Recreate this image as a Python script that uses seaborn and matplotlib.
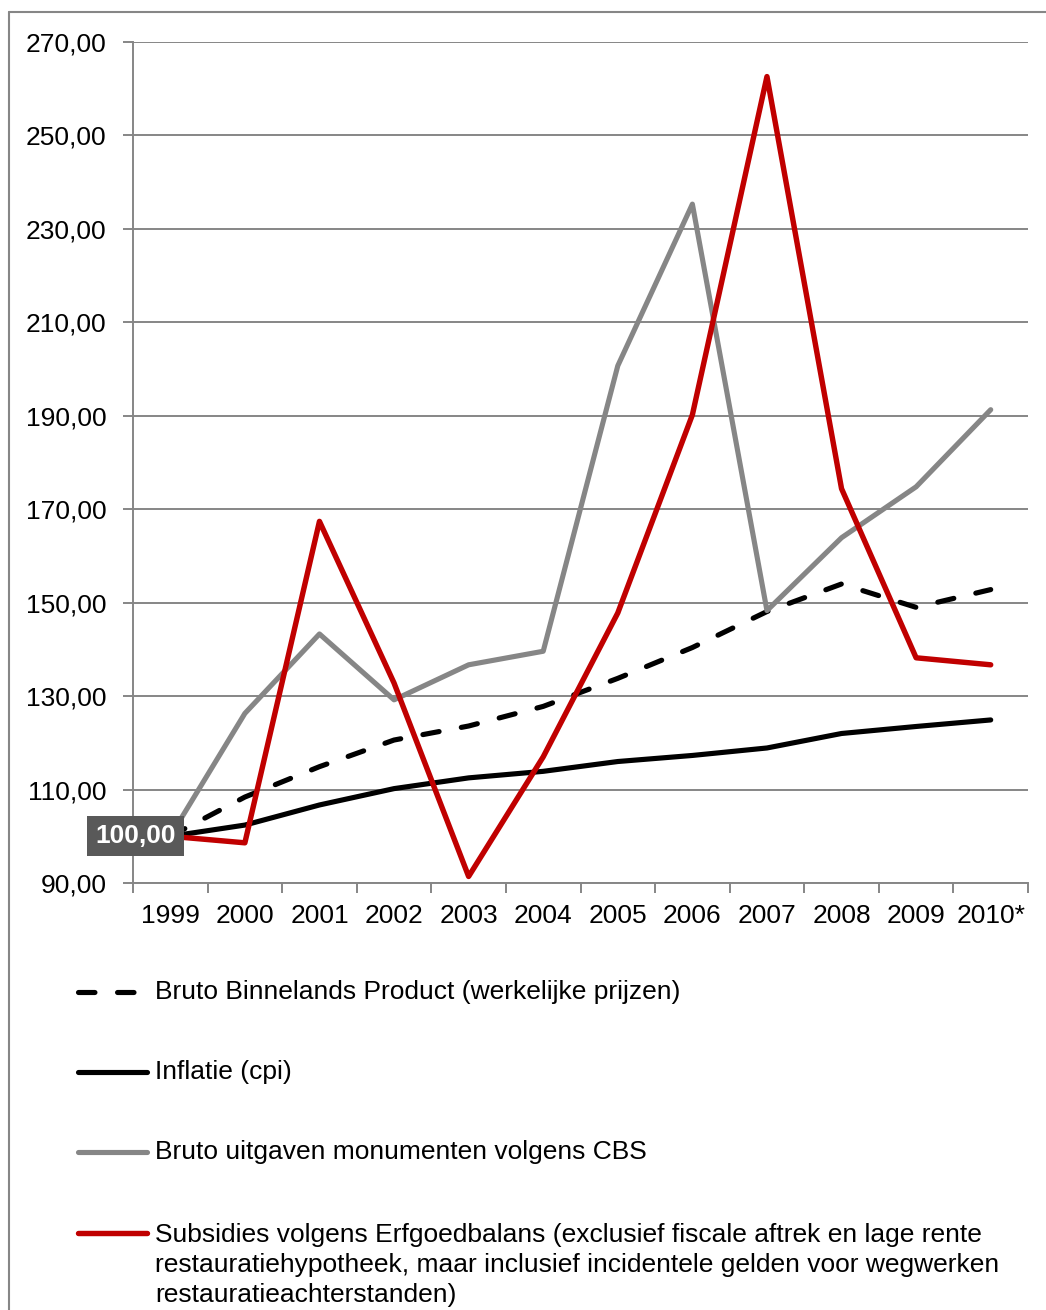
import pandas as pd
import matplotlib
matplotlib.use('Agg')
import matplotlib.pyplot as plt
from matplotlib.lines import Line2D
import seaborn as sns

years = ['1999', '2000', '2001', '2002', '2003', '2004', '2005', '2006', '2007', '2008', '2009', '2010*']
bbp = [100.0, 108.4, 114.9, 120.6, 123.6, 127.8, 133.8, 140.4, 148.1, 154.0, 149.0, 152.8]
inflatie = [100.0, 102.4, 106.7, 110.2, 112.5, 113.9, 116.0, 117.3, 118.9, 122.0, 123.5, 124.9]
cbs = [100.0, 126.3, 143.3, 129.2, 136.7, 139.6, 200.7, 235.3, 148.3, 163.9, 174.8, 191.3]
subsidies = [100.0, 98.6, 167.4, 132.8, 91.4, 117.0, 147.8, 190.2, 262.6, 174.4, 138.2, 136.7]

labels = ['Bruto Binnelands Product (werkelijke prijzen)',
          'Inflatie (cpi)',
          'Bruto uitgaven monumenten volgens CBS',
          'Subsidies volgens Erfgoedbalans (exclusief fiscale aftrek en lage rente\n'
          'restauratiehypotheek, maar inclusief incidentele gelden voor wegwerken\n'
          'restauratieachterstanden)']

sns.set_theme(style='white')
plt.rcParams['font.family'] = ['Liberation Sans', 'DejaVu Sans']
plt.rcParams['text.color'] = 'black'

W, H = 1046, 1310
FS = 19
fig = plt.figure(figsize=(W / 100, H / 100), dpi=100)
ax = fig.add_axes([133 / W, 1 - 883 / H, (1028 - 133) / W, (883 - 42) / H])

df = pd.DataFrame({'x': range(len(years)), 'bbp': bbp, 'inflatie': inflatie,
                   'cbs': cbs, 'subsidies': subsidies})

grid_c = '#868686'
dash = (0, (3.2, 4.4))
styles = [
    ('bbp', dict(color='black', lw=3.7, linestyle=dash, dash_capstyle='round')),
    ('inflatie', dict(color='black', lw=3.7, solid_capstyle='round')),
    ('cbs', dict(color='#868686', lw=3.7, solid_capstyle='round')),
    ('subsidies', dict(color='#C00000', lw=3.9, solid_capstyle='round')),
]
for i, (col, kw) in enumerate(styles):
    sns.lineplot(data=df, x='x', y=col, ax=ax, zorder=3 + i, **kw)

ax.set_xlim(-0.5, len(years) - 0.5)
ax.set_ylim(90, 270)
ax.set_yticks(range(90, 271, 20))
ax.set_yticklabels([f'{v},00' for v in range(90, 271, 20)])
ax.set_xticks([i - 0.5 for i in range(len(years) + 1)])
ax.set_xticklabels([])
ax.set_xticks(range(len(years)), minor=True)
ax.set_xticklabels(years, minor=True)
ax.tick_params(axis='x', which='major', length=7, width=1.4, color=grid_c, direction='out', bottom=True)
ax.tick_params(axis='x', which='minor', length=0, pad=15, labelsize=FS, colors='black')
ax.tick_params(axis='y', length=7, width=1.4, color=grid_c, direction='out', left=True, pad=12,
               labelsize=FS, labelcolor='black')
ax.set_xlabel('')
ax.set_ylabel('')
ax.grid(axis='y', color=grid_c, lw=1.4)
ax.grid(axis='x', visible=False)
for s in ['top', 'right']:
    ax.spines[s].set_visible(False)
for s in ['left', 'bottom']:
    ax.spines[s].set_color(grid_c)
    ax.spines[s].set_linewidth(1.4)
ax.set_axisbelow(True)

ax.annotate('100,00', xy=(0, subsidies[0]), xytext=(-25, 0), textcoords='offset points',
            ha='center', va='center', fontsize=FS, fontweight='bold', color='white',
            bbox=dict(boxstyle='square,pad=0.3', fc='#595959', ec='none'), zorder=10)

# legend below the plot
leg_y = [992, 1072, 1152, 1233]
for (col, kw), lab, y in zip(styles, labels, leg_y):
    fy = 1 - y / H
    fig.add_artist(Line2D([78 / W, 147 / W], [fy, fy], transform=fig.transFigure, **kw))
    if '\n' in lab:
        fig.text(155 / W, 1 - (y - 10) / H, lab, ha='left', va='top', fontsize=FS,
                 linespacing=1.32)
    else:
        fig.text(155 / W, fy, lab, ha='left', va='center', fontsize=FS)

# outer chart border (left and top)
fig.add_artist(Line2D([9 / W, 9 / W], [0, 1 - 12 / H], transform=fig.transFigure, color=grid_c, lw=1.5))
fig.add_artist(Line2D([9 / W, 1], [1 - 12 / H, 1 - 12 / H], transform=fig.transFigure, color=grid_c, lw=1.5))

fig.savefig('out.png', dpi=100)
